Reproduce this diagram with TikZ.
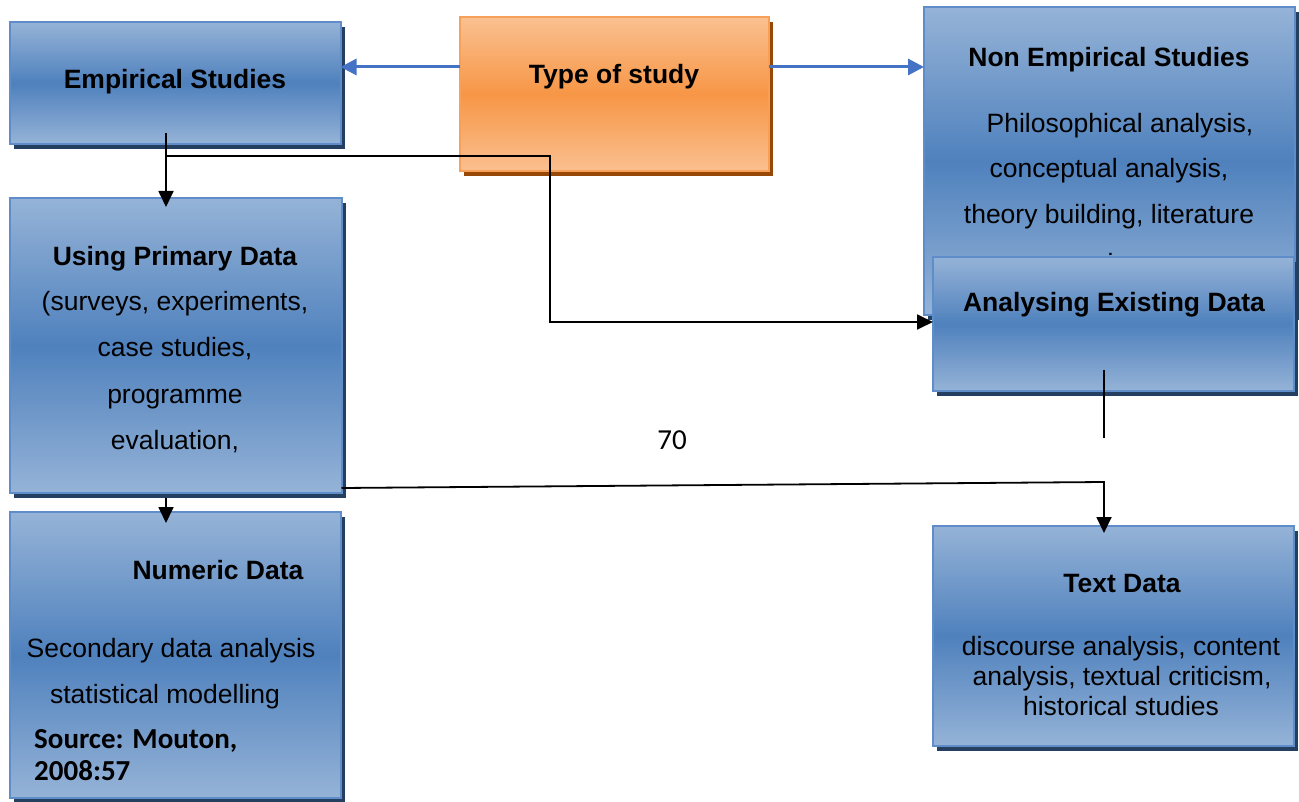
\documentclass[tikz,border=0pt]{standalone}
\usepackage{fontspec}
\setmainfont{Liberation Sans}
\newfontfamily\carlito{Carlito}
\usetikzlibrary{arrows.meta,shadows}
\definecolor{bLight}{HTML}{95B3D7}
\definecolor{bMid}{HTML}{4F81BD}
\definecolor{bBorder}{HTML}{5E8DC9}
\definecolor{bShadow}{HTML}{243F60}
\definecolor{oLight}{HTML}{FAC090}
\definecolor{oMid}{HTML}{F79646}
\definecolor{oBorder}{HTML}{F7A05A}
\definecolor{oShadow}{HTML}{974806}
\definecolor{arrBlue}{HTML}{4472C4}
\begin{document}
\begin{tikzpicture}[x=1pt,y=-1pt,
  box/.style={rectangle, inner sep=0pt, outer sep=0pt, line width=2pt},
  bluebox/.style={box, draw=bBorder, top color=bLight, bottom color=bLight, middle color=bMid,
    general shadow={fill=bShadow, shadow xshift=4pt, shadow yshift=-5pt}},
  orangebox/.style={box, draw=oBorder, top color=oLight, bottom color=oLight, middle color=oMid,
    general shadow={fill=oShadow, shadow xshift=4pt, shadow yshift=-5pt}},
  txt/.style={anchor=base, inner sep=0pt, font=\fontsize{26.5}{30}\selectfont},
  btxt/.style={txt, font=\fontsize{26.5}{30}\selectfont\bfseries},
  srctxt/.style={anchor=base west, inner sep=0pt, font=\carlito\bfseries\fontsize{29}{31}\selectfont},
  bluearr/.style={draw=arrBlue, line width=3pt, -{Triangle[length=16pt,width=16pt]}},
  blk/.style={draw=black, line width=1.8pt},
  blkarr/.style={blk, -{Triangle[length=16pt,width=15pt]}}
]
\useasboundingbox (0,0) rectangle (1299,802);

% boxes
\node[bluebox, minimum width=331pt, minimum height=122pt] (emp) at (175,83) {};
\node[btxt] (empT) at (175,89) {Empirical Studies};

\node[orangebox, minimum width=309pt, minimum height=154pt] (type) at (614.5,94.5) {};
\node[btxt] (typeT) at (614,84) {Type of study};

\node[bluebox, minimum width=371pt, minimum height=308pt] (nonemp) at (1109.5,160.75) {};
\node[btxt] (nonT) at (1109,67) {Non Empirical Studies};
\node[txt] (non1) at (1120,133) {Philosophical analysis,};
\node[txt] (non2) at (1109,178) {conceptual analysis,};
\node[txt] (non3) at (1109,224) {theory building, literature};
\node[txt] (non4) at (1109,273) {review};

\node[bluebox, minimum width=361pt, minimum height=134pt] (anal) at (1113.5,324) {};
\node[btxt] (analT) at (1114,312) {Analysing Existing Data};

\node[bluebox, minimum width=332pt, minimum height=295pt] (prim) at (175.5,345.5) {};
\node[btxt] (primT) at (175,266) {Using Primary Data};
\node[txt] (prim1) at (175,311) {(surveys, experiments,};
\node[txt] (prim2) at (175,357) {case studies,};
\node[txt] (prim3) at (175,403) {programme};
\node[txt] (prim4) at (175,449) {evaluation,};

\node[bluebox, minimum width=331.5pt, minimum height=286pt] (num) at (175.25,655) {};
\node[btxt] (numT) at (218,579) {Numeric Data};
\node[txt] (num1) at (171,657) {Secondary data analysis};
\node[txt] (num2) at (165,703) {statistical modelling};
\node[srctxt] (src1) at (34,748) {Source: Mouton,};
\node[srctxt] (src2) at (34,780) {2008:57};

\node[bluebox, minimum width=361pt, minimum height=220.5pt] (text) at (1113.5,635.75) {};
\node[btxt] (textT) at (1122,592) {Text Data};
\node[txt] (text1) at (1121,655) {discourse analysis, content};
\node[txt] (text2) at (1122,685) {analysis, textual criticism,};
\node[txt] (text3) at (1121,715) {historical studies};

\node[anchor=base, inner sep=0pt, font=\carlito\fontsize{29}{30}\selectfont] (pg) at (672,449) {70};

% connectors
\coordinate (ya) at (0,67);
\draw[bluearr] (type.west |- ya) -- (emp.east |- ya);
\draw[bluearr] (type.east |- ya) -- (nonemp.west |- ya);

\coordinate (e1) at (166,133);
\coordinate (e2) at (166,156);
\coordinate (e3) at (166,207);
\draw[blkarr] (e1) -- (e3);

\coordinate (r1) at (550,156);
\coordinate (r2) at (550,322);
\draw[blkarr] (e2) -- (r1) -- (r2) -- (anal.west |- r2);

\coordinate (n1) at (166,498);
\coordinate (n2) at (166,523);
\draw[blkarr] (n1) -- (n2);

\coordinate (pa) at (0,488);
\coordinate (t1) at (1104,482);
\coordinate (t2) at (1104,533);
\draw[blkarr] (prim.east |- pa) -- (t1) -- (t2);

\coordinate (a1) at (1104,370);
\coordinate (a2) at (1104,438);
\draw[blk] (a1) -- (a2);
\end{tikzpicture}
\end{document}
